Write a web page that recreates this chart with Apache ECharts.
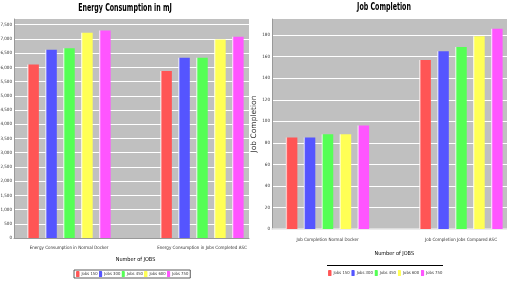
<!DOCTYPE html>
<html>
<head>
<meta charset="utf-8">
<script src="https://cdn.jsdelivr.net/npm/echarts@6/dist/echarts.min.js"></script>
<style>
  html, body { margin: 0; padding: 0; background: #fff; }
  #chart { width: 507px; height: 286px; }
</style>
</head>
<body>
<div id="chart"></div>
<script>
// categories and series names
const energyCategories = ["Energy Consumption in Normal Docker", "Energy Consumption in Jobs Completed ASC"];
const jobCategories = ["Job Completion Normal Docker", "Job Completion Jobs Compared ASC"];
const seriesNames = ["Jobs 150", "Jobs 300", "Jobs 450", "Jobs 600", "Jobs 750"];

// energy values (mJ), one array per job count
const energy150 = [6100, 5870];
const energy300 = [6620, 6340];
const energy450 = [6670, 6340];
const energy600 = [7220, 6980];
const energy750 = [7300, 7080];

// job completion values
const jobs150 = [85, 157];
const jobs300 = [85, 165];
const jobs450 = [88, 169];
const jobs600 = [88, 179];
const jobs750 = [96, 186];

const energyData = [energy150, energy300, energy450, energy600, energy750];
const jobData = [jobs150, jobs300, jobs450, jobs600, jobs750];

const colors = ["#ff5555", "#5555ff", "#55ff55", "#ffff55", "#ff55ff"];
const FONT = "'DejaVu Sans Condensed', 'Liberation Sans Narrow', sans-serif";

const chart = echarts.init(document.getElementById("chart"));

function barStyle(c) {
  return {
    color: new echarts.graphic.LinearGradient(0, 0, 1, 0, [
      { offset: 0, color: "#ffffff" },
      { offset: 0.15, color: c },
      { offset: 1, color: c },
    ]),
  };
}

function makeSeries(dataList, xIdx, yIdx) {
  return dataList.map((d, i) => ({
    name: seriesNames[i],
    type: "bar",
    xAxisIndex: xIdx,
    yAxisIndex: yIdx,
    data: d,
    barWidth: 11.5,
    barGap: "56%",
    itemStyle: barStyle(colors[i]),
  }));
}

const tickLabel = { fontFamily: FONT, fontSize: 4.5, color: "#333" };
const legendText = { fontFamily: FONT, fontSize: 4.2, color: "#333", padding: [0, 0, 0, -3] };

const option = {
  animation: false,
  color: colors,
  // 两个背景网格 + 两个画柱子的网格
  grid: [
    { left: 14, top: 19, width: 235, height: 219, show: true, backgroundColor: "#c0c0c0", borderWidth: 0, outerBoundsMode: "none" },
    { left: 2.5, top: 19, width: 266, height: 219, outerBoundsMode: "none" },
    { left: 272, top: 19, width: 235, height: 210, show: true, backgroundColor: "#c0c0c0", borderWidth: 0, outerBoundsMode: "none" },
    { left: 260.75, top: 19, width: 267, height: 210, outerBoundsMode: "none" },
  ],
  legend: [
    {
      data: seriesNames,
      left: 74, top: 270,
      itemWidth: 3.5, itemHeight: 6, itemGap: 1,
      padding: [1, 2],
      borderColor: "#333", borderWidth: 0.8,
      textStyle: legendText,
    },
    {
      data: seriesNames,
      left: 326, top: 269,
      itemWidth: 3.5, itemHeight: 6, itemGap: 1.5,
      padding: [1, 2],
      textStyle: legendText,
    },
  ],
  graphic: [
    // titles, squeezed to the narrow look of the original
    {
      type: "text", x: 125, y: 3, scaleX: 0.7,
      style: { text: "Energy Consumption in mJ", align: "center", font: "bold 10px " + FONT, fill: "#000" },
    },
    {
      type: "text", x: 384, y: 2, scaleX: 0.7,
      style: { text: "Job Completion", align: "center", font: "bold 10px " + FONT, fill: "#000" },
    },
    { type: "line", shape: { x1: 327, y1: 265.5, x2: 443, y2: 265.5 }, style: { stroke: "#000", lineWidth: 1 } },
  ],
  xAxis: [
    {
      gridIndex: 0, type: "category", data: energyCategories,
      axisLine: { lineStyle: { color: "#999" } },
      axisTick: { show: false }, axisLabel: { show: false },
    },
    {
      gridIndex: 1, type: "category", data: energyCategories,
      axisLine: { show: false }, axisTick: { show: false },
      axisLabel: Object.assign({ interval: 0, margin: 7 }, tickLabel),
      name: "Number of JOBS", nameLocation: "middle", nameGap: 19,
      nameTextStyle: { fontFamily: FONT, fontSize: 5.5, color: "#000" },
    },
    {
      gridIndex: 2, type: "category", data: jobCategories,
      axisLine: { lineStyle: { color: "#e6e6e6", width: 1.5 } },
      axisTick: { show: false }, axisLabel: { show: false },
    },
    {
      gridIndex: 3, type: "category", data: jobCategories,
      axisLine: { show: false }, axisTick: { show: false },
      axisLabel: Object.assign({ interval: 0, margin: 8 }, tickLabel),
      name: "Number of JOBS", nameLocation: "middle", nameGap: 22,
      nameTextStyle: { fontFamily: FONT, fontSize: 5.5, color: "#000" },
    },
  ],
  yAxis: [
    {
      gridIndex: 0, type: "value", min: 0, max: 7700, interval: 500,
      axisLine: { show: true, lineStyle: { color: "#999" } },
      axisTick: { show: false },
      axisLabel: Object.assign({ margin: 2, showMaxLabel: false, formatter: v => v.toLocaleString("en-US") }, tickLabel),
      splitLine: { lineStyle: { color: "#ffffff", width: 1 }, showMaxLine: false },
    },
    { gridIndex: 1, type: "value", min: 0, max: 7700, show: false },
    {
      gridIndex: 2, type: "value", min: 0, max: 195, interval: 20,
      axisLine: { show: true, lineStyle: { color: "#999" } },
      axisTick: { show: false },
      axisLabel: Object.assign({ margin: 2, showMaxLabel: false }, tickLabel),
      splitLine: { lineStyle: { color: "#ffffff", width: 1 }, showMaxLine: false },
      name: "Job Completion", nameLocation: "middle", nameRotate: 90, nameGap: 11,
      nameTextStyle: { fontFamily: "'DejaVu Sans', sans-serif", fontSize: 7.5, color: "#333" },
    },
    { gridIndex: 3, type: "value", min: 0, max: 195, show: false },
  ],
  series: makeSeries(energyData, 1, 1).concat(makeSeries(jobData, 3, 3)),
};

chart.setOption(option);
</script>
</body>
</html>
